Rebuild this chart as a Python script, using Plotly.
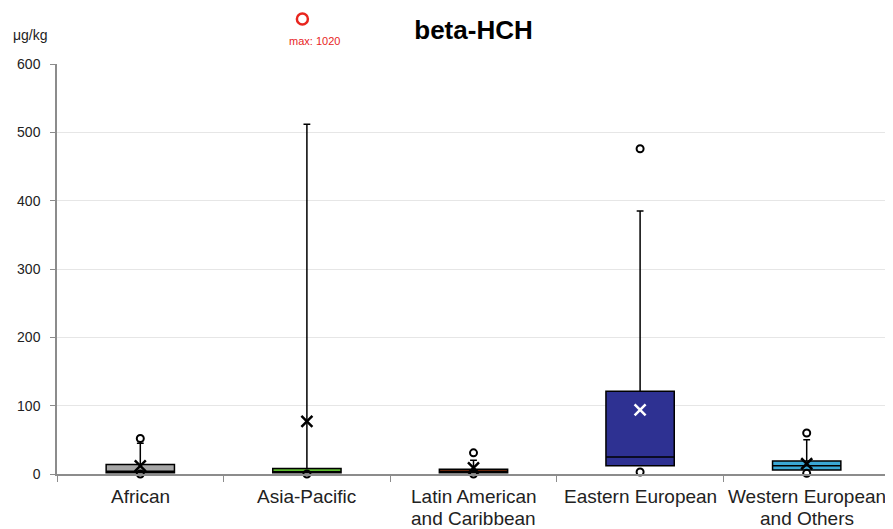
import plotly.graph_objects as go

categories = ["African", "Asia-Pacific", "Latin American<br>and Caribbean",
              "Eastern European", "Western European<br>and Others"]
q1 = [2, 2, 2, 12, 6]
median = [4, 3, 4, 25, 12]
q3 = [14, 8, 7, 121, 19]
lower_fence = [2, 2, 2, 12, 6]
upper_fence = [45, 512, 20, 385, 50]
mean = [12, 77, 9, 94, 15]
outliers_high = [52, None, 31, 476, 60]
outliers_low = [0, 0, 0, 3, 1]
fill_colors = ["#A6A6A6", "#5CB82E", "#CC4A17", "#2E3192", "#3AA8D6"]
mean_colors = ["black", "black", "black", "white", "black"]
asia_max = 1020

y_ticks = [0, 100, 200, 300, 400, 500, 600]

fig = go.Figure()

for i, cat in enumerate(categories):
    fig.add_trace(go.Box(
        x=[cat], q1=[q1[i]], median=[median[i]], q3=[q3[i]],
        lowerfence=[lower_fence[i]], upperfence=[upper_fence[i]],
        fillcolor=fill_colors[i], line=dict(color="black", width=1.5),
        width=0.41, whiskerwidth=0.1, boxpoints=False, showlegend=False,
        hoverinfo="skip",
    ))

# outliers
ox, oy = [], []
for i, cat in enumerate(categories):
    if outliers_high[i] is not None:
        ox.append(cat); oy.append(outliers_high[i])
    if outliers_low[i] is not None:
        ox.append(cat); oy.append(outliers_low[i])
fig.add_trace(go.Scatter(
    x=ox, y=oy, mode="markers", cliponaxis=False, showlegend=False,
    marker=dict(symbol="circle-open", size=7, color="black", line=dict(width=2)),
))

# means
fig.add_trace(go.Scatter(
    x=categories, y=mean, mode="markers", cliponaxis=False, showlegend=False,
    marker=dict(symbol="x-thin", size=11, color=mean_colors,
                line=dict(width=2.5, color=mean_colors)),
))

# off-scale max for Asia-Pacific
fig.add_shape(type="circle", xref="x", yref="paper",
              xsizemode="pixel", ysizemode="pixel",
              xanchor=1, yanchor=1.11, x0=-10, x1=1, y0=-5.5, y1=5.5,
              line=dict(color="#E8251E", width=2.5))
fig.add_annotation(x=categories[1], xref="x", y=1.056, yref="paper", xshift=8,
                   xanchor="center", yanchor="middle",
                   text=f"max: {asia_max}", showarrow=False,
                   font=dict(color="#E8251E", size=11, family="Liberation Sans"))

fig.add_annotation(x=-0.032, xref="paper", y=1.071, yref="paper",
                   xanchor="center", yanchor="middle",
                   text="μg/kg", showarrow=False,
                   font=dict(size=14, color="#222", family="Liberation Sans"))

# category labels (two tight lines)
for cat in categories:
    for j, line in enumerate(cat.split("<br>")):
        fig.add_annotation(x=cat, xref="x", y=-0.056 - j * 0.0537, yref="paper",
                           xanchor="center", yanchor="middle", text=line,
                           showarrow=False,
                           font=dict(size=19, color="#222", family="Liberation Sans"))

fig.update_layout(
    width=885, height=521,
    margin=dict(l=49, r=3, t=56, b=55),
    paper_bgcolor="white", plot_bgcolor="white",
    boxmode="overlay",
    title=dict(text="<b>beta-HCH</b>", x=0.5, xref="paper", xanchor="center",
               y=1 - 22 / 521, yref="container", yanchor="middle",
               font=dict(size=26, color="black", family="Liberation Sans")),
    font=dict(family="Liberation Sans", color="#222"),
)
fig.update_xaxes(
    categoryorder="array", categoryarray=categories, automargin=False,
    range=[-0.5, len(categories) - 0.5],
    showline=True, linecolor="#8C8C8C", linewidth=1.5,
    ticks="outside", tickson="boundaries", ticklen=6, tickcolor="#8C8C8C",
    showticklabels=False, showgrid=False,
)
fig.update_yaxes(
    range=[0, 600], tickvals=y_ticks, automargin=False,
    showline=True, linecolor="#8C8C8C", linewidth=1.5,
    ticks="outside", ticklen=5, tickcolor="#8C8C8C", ticklabelstandoff=7,
    showgrid=True, gridcolor="#E6E6E6", gridwidth=1,
    tickfont=dict(size=14, color="#222"), zeroline=False,
)

fig.write_html("out.html")
